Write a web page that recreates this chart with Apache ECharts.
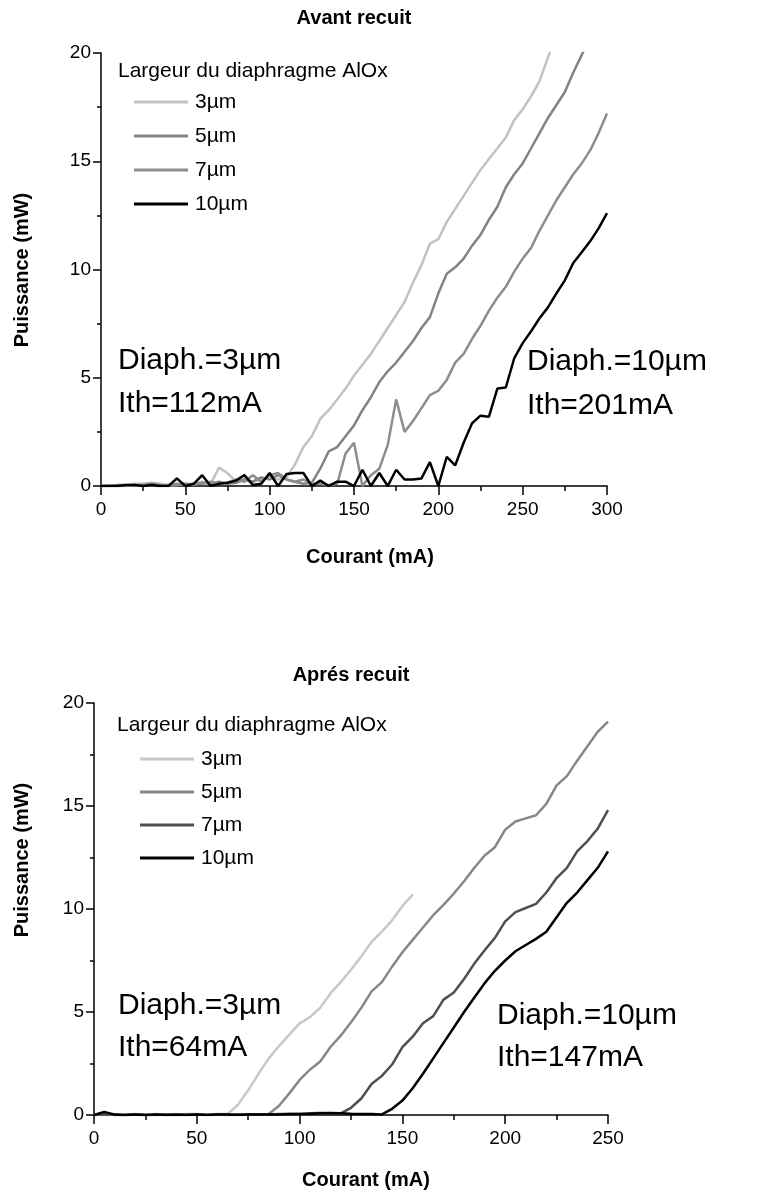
<!DOCTYPE html>
<html>
<head>
<meta charset="utf-8">
<script src="https://cdn.jsdelivr.net/npm/echarts@6/dist/echarts.min.js"></script>
<style>
  html, body { margin: 0; padding: 0; background: #fff; }
  #chart { width: 757px; height: 1199px; }
</style>
</head>
<body>
<div id="chart"></div>
<script>
// courant (mA), pas de 5 mA
const courantAvant = [0, 5, 10, 15, 20, 25, 30, 35, 40, 45, 50, 55, 60, 65, 70, 75, 80, 85, 90, 95,
  100, 105, 110, 115, 120, 125, 130, 135, 140, 145, 150, 155, 160, 165, 170, 175, 180, 185, 190, 195,
  200, 205, 210, 215, 220, 225, 230, 235, 240, 245, 250, 255, 260, 265, 270, 275, 280, 285, 290, 295, 300];

// puissance (mW) avant recuit
const avant3 = [0, 0, 0.05, 0.05, 0.1, 0.1, 0.15, 0.1, 0.05, 0.05, 0.1, 0.1, 0.2, 0.1, 0.85, 0.6, 0.2, 0.3, 0.2, 0.3,
  0.4, 0.3, 0.4, 1.0, 1.8, 2.3, 3.1, 3.5, 4.0, 4.5, 5.1, 5.6, 6.1, 6.7, 7.3, 7.9, 8.5, 9.4, 10.2, 11.2,
  11.4, 12.2, 12.8, 13.4, 14.0, 14.6, 15.1, 15.6, 16.1, 16.9, 17.4, 18.0, 18.7, 19.8, 20.8, null, null, null, null, null, null];
const avant5 = [0, 0, 0.05, 0.05, 0, 0.05, 0.1, 0.05, 0, 0.05, 0.1, 0.05, 0.15, 0.1, 0.2, 0.1, 0.15, 0.3, 0.2, 0.4,
  0.3, 0.5, 0.3, 0.2, 0.1, 0.15, 0.8, 1.6, 1.8, 2.3, 2.8, 3.5, 4.1, 4.8, 5.3, 5.7, 6.2, 6.7, 7.3, 7.8,
  8.9, 9.8, 10.1, 10.5, 11.1, 11.6, 12.3, 12.9, 13.8, 14.4, 14.9, 15.6, 16.3, 17.0, 17.6, 18.2, 19.1, 19.9, 20.8, null, null];
const avant7 = [0, 0, 0, 0, 0.05, 0.05, 0, 0, 0.05, 0.1, 0.05, 0.1, 0.1, 0.2, 0.1, 0.15, 0.3, 0.2, 0.5, 0.2,
  0.5, 0.6, 0.3, 0.2, 0.3, 0.1, 0.1, 0.05, 0.1, 1.5, 2.0, 0, 0.5, 0.8, 1.9, 4.0, 2.5, 3.0, 3.6, 4.2,
  4.4, 4.9, 5.7, 6.1, 6.8, 7.4, 8.1, 8.7, 9.2, 9.9, 10.5, 11.0, 11.8, 12.5, 13.2, 13.8, 14.4, 14.9, 15.5, 16.3, 17.2];
const avant10 = [0, 0, 0, 0.05, 0.05, 0, 0.05, 0, 0, 0.35, 0, 0.1, 0.5, 0, 0.1, 0.15, 0.25, 0.5, 0.05, 0.1,
  0.6, 0, 0.55, 0.6, 0.6, 0, 0.25, 0, 0.2, 0.2, 0, 0.75, 0, 0.6, 0, 0.75, 0.3, 0.3, 0.35, 1.1,
  0, 1.35, 0.95, 2.0, 2.9, 3.25, 3.2, 4.5, 4.55, 5.9, 6.6, 7.15, 7.75, 8.25, 8.9, 9.5, 10.3, 10.8, 11.3, 11.9, 12.6];

const courantApres = [0, 5, 10, 15, 20, 25, 30, 35, 40, 45, 50, 55, 60, 65, 70, 75, 80, 85, 90, 95,
  100, 105, 110, 115, 120, 125, 130, 135, 140, 145, 150, 155, 160, 165, 170, 175, 180, 185, 190, 195,
  200, 205, 210, 215, 220, 225, 230, 235, 240, 245, 250];

// puissance (mW) apres recuit
const apres3 = [0, 0.1, 0.05, 0, 0.05, 0, 0.05, 0, 0, 0.05, 0.05, 0, 0.05, 0.05, 0.5, 1.2, 2.0, 2.75, 3.35, 3.9,
  4.45, 4.75, 5.2, 5.9, 6.45, 7.05, 7.7, 8.4, 8.9, 9.45, 10.15, 10.7, null, null, null, null, null, null, null, null,
  null, null, null, null, null, null, null, null, null, null, null];
const apres5 = [0, 0.05, 0, 0, 0.02, 0, 0.02, 0, 0, 0.02, 0.03, 0, 0.02, 0, 0.02, 0.02, 0.03, 0.05, 0.45, 1.05,
  1.7, 2.2, 2.6, 3.3, 3.85, 4.5, 5.2, 6.0, 6.45, 7.2, 7.9, 8.5, 9.1, 9.7, 10.2, 10.75, 11.35, 12.0, 12.6, 13.0,
  13.85, 14.25, 14.4, 14.55, 15.1, 16.0, 16.45, 17.2, 17.9, 18.6, 19.1];
const apres7 = [0, 0.05, 0, 0, 0.02, 0, 0, 0.02, 0, 0, 0.02, 0, 0.02, 0, 0.02, 0.03, 0.02, 0.03, 0.05, 0.05,
  0.05, 0.08, 0.1, 0.08, 0.08, 0.35, 0.8, 1.5, 1.9, 2.45, 3.3, 3.8, 4.45, 4.8, 5.6, 5.95, 6.6, 7.35, 8.0, 8.6,
  9.4, 9.85, 10.05, 10.25, 10.8, 11.5, 12.0, 12.8, 13.3, 13.9, 14.8];
const apres10 = [0, 0.15, 0.02, 0, 0.02, 0, 0.02, 0, 0.02, 0, 0.02, 0, 0.02, 0.02, 0, 0.02, 0.03, 0.02, 0.03, 0.05,
  0.05, 0.06, 0.08, 0.1, 0.08, 0.06, 0.05, 0.05, 0.03, 0.3, 0.7, 1.3, 2.0, 2.75, 3.5, 4.25, 5.0, 5.7, 6.4, 7.0,
  7.5, 7.95, 8.25, 8.55, 8.9, 9.6, 10.3, 10.8, 11.4, 12.0, 12.8];

const diaphragmes = ['3µm', '5µm', '7µm', '10µm'];
const couleursAvant = ['#c2c2c2', '#838383', '#8d8d8d', '#000000'];
const couleursApres = ['#c8c8c8', '#878787', '#4f4f4f', '#000000'];

const police = "'Liberation Sans', Arial, sans-serif";

function paires(xs, ys) {
  const out = [];
  xs.forEach((x, i) => { if (ys[i] !== null) out.push([x, ys[i]]); });
  return out;
}

function axeX(grid, max) {
  return {
    type: 'value', gridIndex: grid, min: 0, max: max, interval: 50,
    axisLine: { onZero: false, lineStyle: { color: '#000', width: 1.5 } },
    axisTick: { inside: false, length: 9, lineStyle: { color: '#000', width: 1.5 } },
    minorTick: { show: true, splitNumber: 2, length: 5, lineStyle: { color: '#000', width: 1.5 } },
    splitLine: { show: false },
    axisLabel: { fontFamily: police, fontSize: 19, color: '#000', margin: 14 }
  };
}

function axeY(grid) {
  return {
    type: 'value', gridIndex: grid, min: 0, max: 20, interval: 5,
    axisLine: { show: true, onZero: false, lineStyle: { color: '#000', width: 1.5 } },
    axisTick: { show: true, inside: false, length: 8, lineStyle: { color: '#000', width: 1.5 } },
    minorTick: { show: true, splitNumber: 2, length: 4, lineStyle: { color: '#000', width: 1.5 } },
    splitLine: { show: false },
    axisLabel: { fontFamily: police, fontSize: 19, color: '#000', margin: 10 }
  };
}

function serie(prefixe, idx, grid, xs, ys, couleur) {
  return {
    name: prefixe + ' ' + diaphragmes[idx], type: 'line',
    xAxisIndex: grid, yAxisIndex: grid,
    data: paires(xs, ys),
    symbol: 'none', clip: true, animation: false,
    lineStyle: { color: couleur, width: 2.5 },
    itemStyle: { color: couleur }
  };
}

function legende(prefixe, left, top, gap) {
  return {
    orient: 'vertical', left: left, top: top,
    icon: 'rect', itemWidth: 54, itemHeight: 3, itemGap: gap,
    selectedMode: false,
    data: diaphragmes.map(d => prefixe + ' ' + d),
    formatter: n => n.split(' ')[1],
    textStyle: { fontFamily: police, fontSize: 21, lineHeight: 22, color: '#000', padding: [0, 0, 0, 2] }
  };
}

function texte(x, y, s, taille, gras, align, rot) {
  return {
    type: 'text', x: x, y: y, rotation: rot || 0, silent: true,
    style: {
      text: s, fill: '#000', font: (gras ? 'bold ' : '') + taille + 'px ' + police,
      textAlign: align || 'left', textVerticalAlign: 'middle'
    }
  };
}

const chart = echarts.init(document.getElementById('chart'), null, { renderer: 'canvas' });

chart.setOption({
  backgroundColor: '#fff',
  animation: false,
  grid: [
    { left: 101, top: 53, width: 506, height: 433 },
    { left: 94, top: 703, width: 514, height: 412 }
  ],
  xAxis: [axeX(0, 300), axeX(1, 250)],
  yAxis: [axeY(0), axeY(1)],
  legend: [
    legende('Avant', 129, 86, 12),
    legende('Apres', 135, 743, 11)
  ],
  series: [
    serie('Avant', 0, 0, courantAvant, avant3, couleursAvant[0]),
    serie('Avant', 1, 0, courantAvant, avant5, couleursAvant[1]),
    serie('Avant', 2, 0, courantAvant, avant7, couleursAvant[2]),
    serie('Avant', 3, 0, courantAvant, avant10, couleursAvant[3]),
    serie('Apres', 0, 1, courantApres, apres3, couleursApres[0]),
    serie('Apres', 1, 1, courantApres, apres5, couleursApres[1]),
    serie('Apres', 2, 1, courantApres, apres7, couleursApres[2]),
    serie('Apres', 3, 1, courantApres, apres10, couleursApres[3])
  ],
  graphic: [
    texte(354, 18, 'Avant recuit', 20, true, 'center'),
    texte(370, 557, 'Courant (mA)', 20, true, 'center'),
    texte(22, 270, 'Puissance (mW)', 20, true, 'center', Math.PI / 2),
    texte(118, 71, 'Largeur du diaphragme AlOx', 21, false),
    texte(118, 361, 'Diaph.=3µm', 30, false),
    texte(118, 404, 'Ith=112mA', 30, false),
    texte(527, 362, 'Diaph.=10µm', 30, false),
    texte(527, 406, 'Ith=201mA', 30, false),
    texte(351, 675, 'Aprés recuit', 20, true, 'center'),
    texte(366, 1180, 'Courant (mA)', 20, true, 'center'),
    texte(22, 860, 'Puissance (mW)', 20, true, 'center', Math.PI / 2),
    texte(117, 725, 'Largeur du diaphragme AlOx', 21, false),
    texte(118, 1006, 'Diaph.=3µm', 30, false),
    texte(118, 1048, 'Ith=64mA', 30, false),
    texte(497, 1016, 'Diaph.=10µm', 30, false),
    texte(497, 1058, 'Ith=147mA', 30, false)
  ]
});
</script>
</body>
</html>
